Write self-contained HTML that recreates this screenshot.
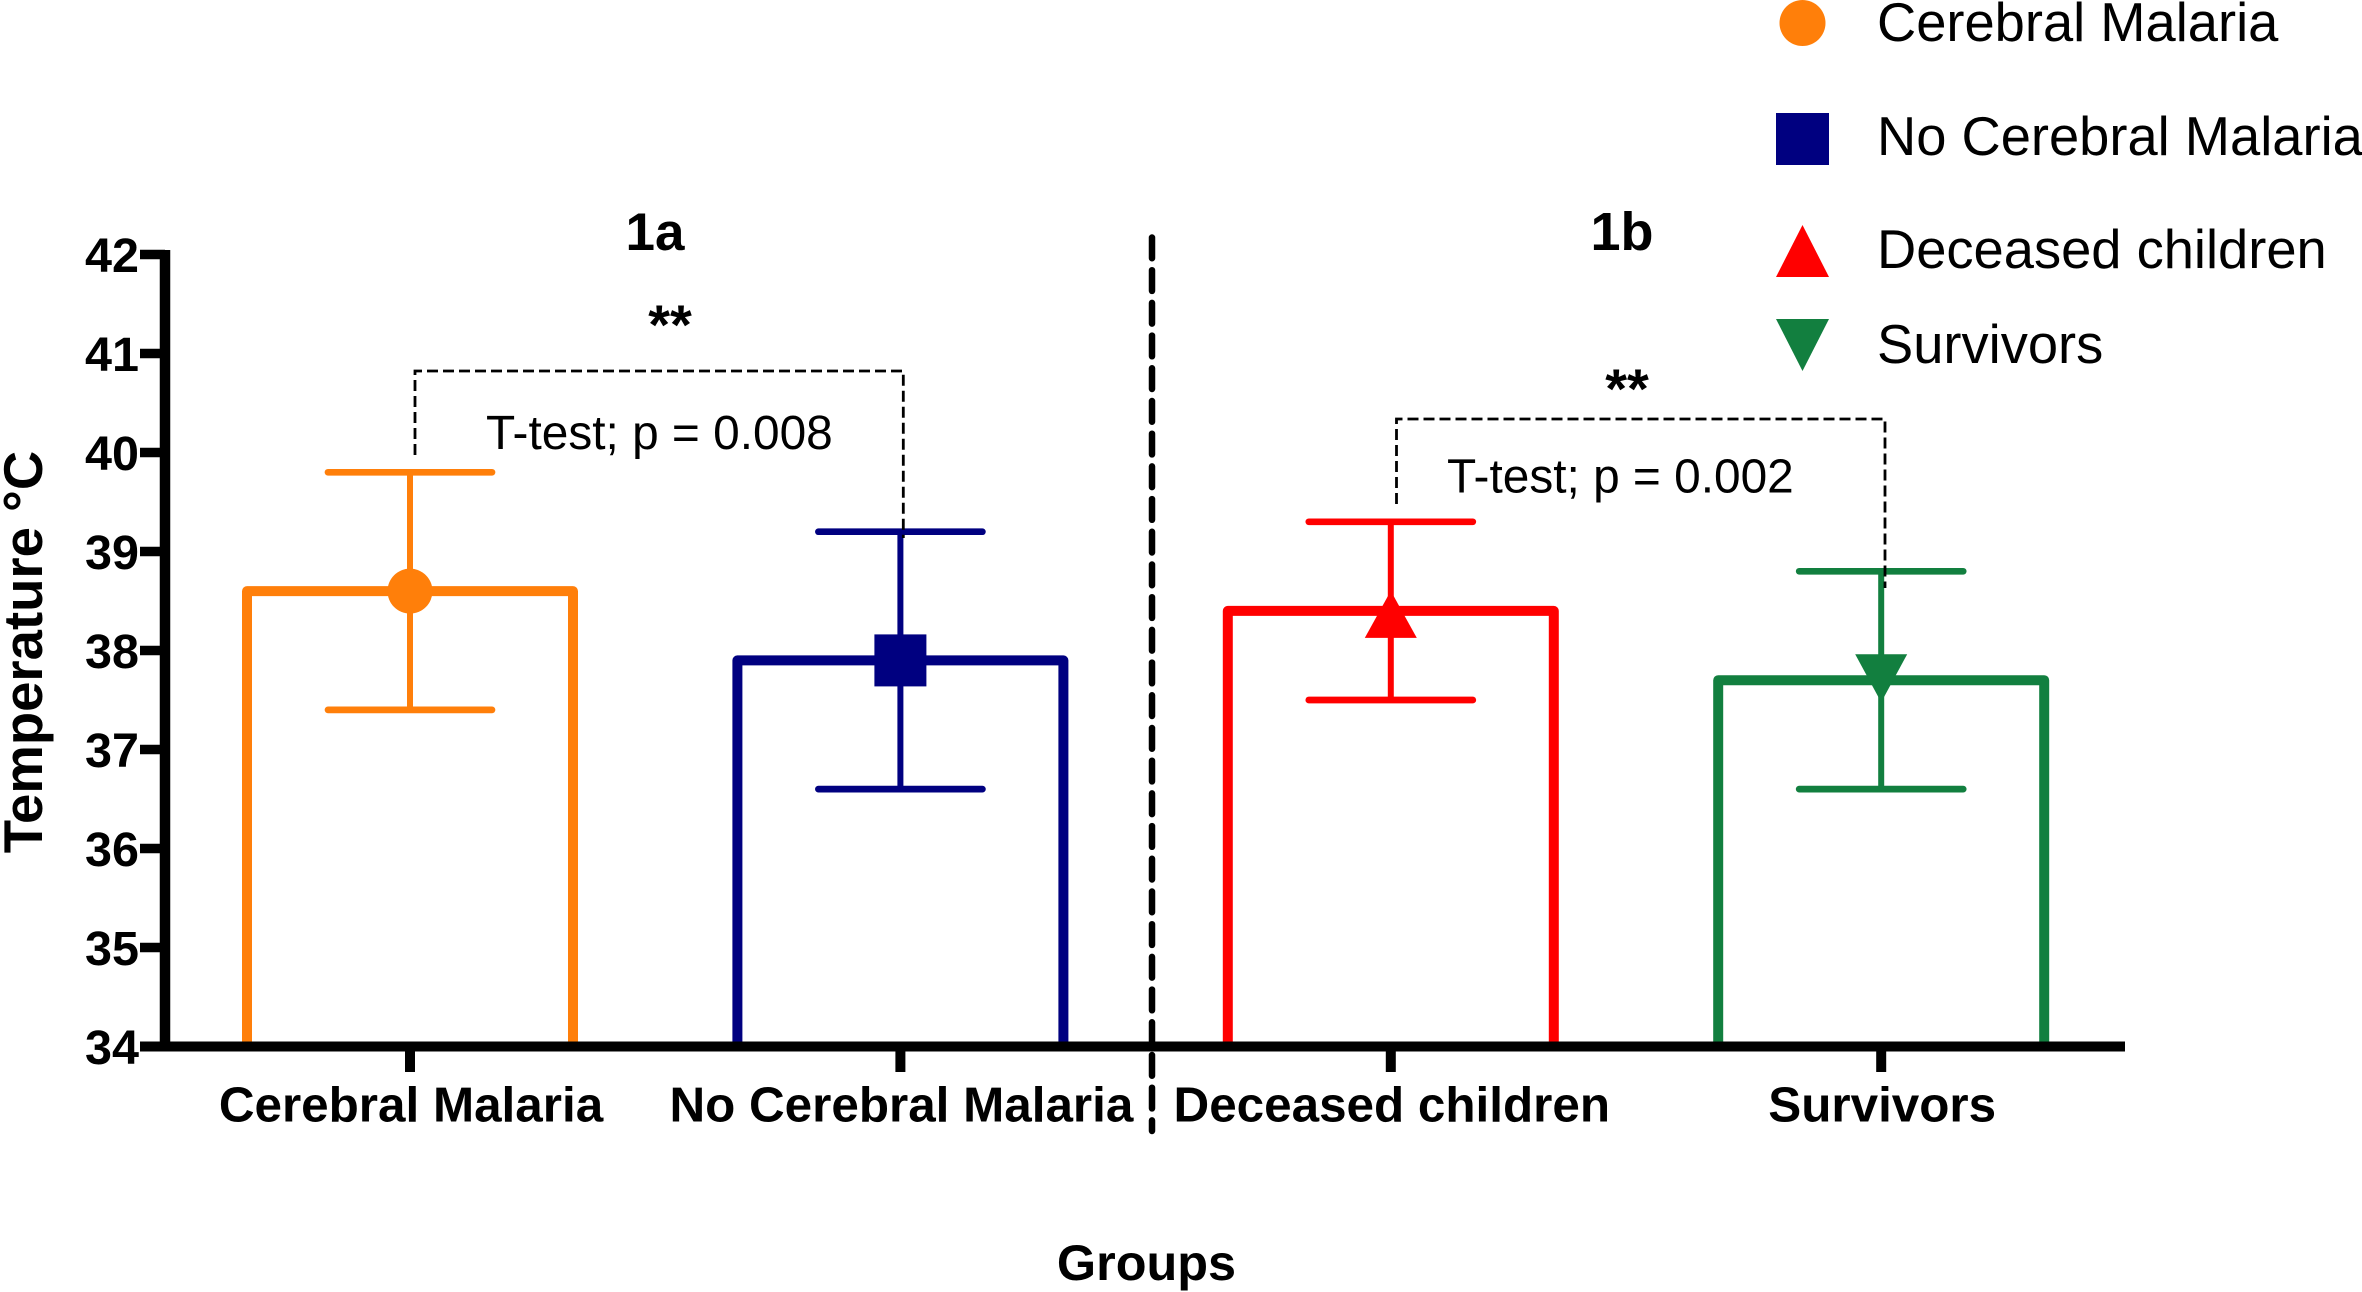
<!DOCTYPE html>
<html lang="en">
<head>
<meta charset="utf-8">
<title>Temperature by group</title>
<style>
  html, body { margin: 0; padding: 0; background: #fff; }
  #chart { display: block; width: 2362px; height: 1292px; font-family: "Liberation Sans", Arial, sans-serif; }
  .bold { font-weight: 700; fill: #000; }
  .reg { font-weight: 400; fill: #000; }
</style>
</head>
<body>
<svg id="chart" xmlns="http://www.w3.org/2000/svg" width="2362" height="1292" viewBox="0 0 2362 1292">
  <rect x="0" y="0" width="2362" height="1292" fill="#fff"/>
  <g id="bars"></g>
  <g id="errors"></g>
  <g id="markers"></g>
  <g id="axes"></g>

  <line x1="1152" y1="237.5" x2="1152" y2="1131" stroke="#000" stroke-width="6.5" stroke-linecap="round" stroke-dasharray="20.7 12"/>

  <text class="bold" font-size="54.5" text-anchor="middle" transform="translate(42 652) rotate(-90)">Temperature °C</text>
  <text class="bold" font-size="50.4" text-anchor="middle" x="1146.5" y="1280">Groups</text>

  <text class="bold" font-size="53" text-anchor="middle" x="655" y="250">1a</text>
  <text class="bold" font-size="54" text-anchor="middle" x="1622" y="250">1b</text>

  <path d="M415 455 V371 H903.3 V538" fill="none" stroke="#000" stroke-width="2.8" stroke-dasharray="11 5"/>
  <path d="M1396.5 504 V419 H1885 V588" fill="none" stroke="#000" stroke-width="2.8" stroke-dasharray="11 5"/>
  <text class="bold" font-size="56" text-anchor="middle" x="670" y="344">**</text>
  <text class="bold" font-size="56" text-anchor="middle" x="1627" y="408">**</text>
  <text class="reg" font-size="47.8" x="486" y="449">T-test; p = 0.008</text>
  <text class="reg" font-size="47.8" x="1447" y="492.5">T-test; p = 0.002</text>

  <g>
    <g>
      <ellipse cx="1802.5" cy="23" rx="23" ry="23" fill="#ff7f0a"/>
      <text class="reg" font-size="54.3" x="1877" y="41">Cerebral Malaria</text>
    </g>
    <g>
      <rect x="1776" y="113" width="53" height="52" fill="#000080"/>
      <text class="reg" font-size="54.3" x="1877" y="155">No Cerebral Malaria</text>
    </g>
    <g>
      <polygon points="1802.5,225 1829,277 1776,277" fill="#ff0000"/>
      <text class="reg" font-size="54.3" x="1877" y="268">Deceased children</text>
    </g>
    <g>
      <polygon points="1776,319 1829,319 1802.5,371" fill="#127f3f"/>
      <text class="reg" font-size="54.3" x="1877" y="363">Survivors</text>
    </g>
  </g>
</svg>

<script>
const categories = ["Cerebral Malaria", "No Cerebral Malaria", "Deceased children", "Survivors"];
const meanValues = [38.6, 37.9, 38.4, 37.7];
const upperValues = [39.8, 39.2, 39.3, 38.8];
const lowerValues = [37.4, 36.6, 37.5, 36.6];
const yTickValues = [34, 35, 36, 37, 38, 39, 40, 41, 42];
const seriesColors = ["#ff7f0a", "#000080", "#ff0000", "#127f3f"];
const seriesSlugs = ["cerebral-malaria", "no-cerebral-malaria", "deceased-children", "survivors"];

const NS = "http://www.w3.org/2000/svg";
function yScale(v) { return 1046.5 - (v - 34) * 99; }
function xScale(i) { return 410 + i * 490.4; }
function make(tag, parent, attrs) {
  const el = document.createElementNS(NS, tag);
  for (const k in attrs) el.setAttribute(k, attrs[k]);
  parent.appendChild(el);
  return el;
}

const barsG = document.getElementById("bars");
const errorsG = document.getElementById("errors");
const markersG = document.getElementById("markers");
const axesG = document.getElementById("axes");
const HALF_BAR = 163, HALF_CAP = 82;

categories.forEach(function (cat, i) {
  const x = xScale(i), color = seriesColors[i], slug = seriesSlugs[i];
  const yTop = yScale(meanValues[i]), yBase = yScale(34);

  const bar = make("path", barsG, {
    d: "M" + (x - HALF_BAR) + " " + yBase + " V" + yTop + " H" + (x + HALF_BAR) + " V" + yBase,
    fill: "none", stroke: color, "stroke-width": 10, "stroke-linejoin": "round"
  });
  
  

  const stem = make("line", errorsG, {
    x1: x, x2: x, y1: yScale(upperValues[i]), y2: yScale(lowerValues[i]),
    stroke: color, "stroke-width": 6
  });
  
  

  const capHigh = make("line", errorsG, {
    x1: x - HALF_CAP, x2: x + HALF_CAP, y1: yScale(upperValues[i]), y2: yScale(upperValues[i]),
    stroke: color, "stroke-width": 6.7, "stroke-linecap": "round"
  });
  
  

  const capLow = make("line", errorsG, {
    x1: x - HALF_CAP, x2: x + HALF_CAP, y1: yScale(lowerValues[i]), y2: yScale(lowerValues[i]),
    stroke: color, "stroke-width": 6.7, "stroke-linecap": "round"
  });
  
  

  let marker;
  if (i === 0) {
    marker = make("ellipse", markersG, { cx: x, cy: yTop, rx: 22.5, ry: 22.5, fill: color });
  } else if (i === 1) {
    marker = make("rect", markersG, { x: x - 26, y: yTop - 26, width: 52, height: 52, fill: color });
  } else if (i === 2) {
    marker = make("polygon", markersG, {
      points: x + "," + (yTop - 20) + " " + (x + 26) + "," + (yTop + 27) + " " + (x - 26) + "," + (yTop + 27),
      fill: color
    });
  } else {
    marker = make("polygon", markersG, {
      points: (x - 26) + "," + (yTop - 26) + " " + (x + 26) + "," + (yTop - 26) + " " + x + "," + (yTop + 22),
      fill: color
    });
  }
  
  
});

const yAxis = make("line", axesG, {
  x1: 165, x2: 165, y1: yScale(42) - 4.5, y2: yScale(34) + 5, stroke: "#000", "stroke-width": 10.5
});



const xAxis = make("line", axesG, {
  x1: 140, x2: 2125, y1: yScale(34), y2: yScale(34), stroke: "#000", "stroke-width": 10
});



yTickValues.forEach(function (v) {
  const y = yScale(v);
  const tick = make("line", axesG, { x1: 140, x2: 165, y1: y, y2: y, stroke: "#000", "stroke-width": 9.5 });
  
  

  const label = make("text", axesG, {
    x: 139, y: y + 17.5, "text-anchor": "end", "font-size": 48.5, "class": "bold"
  });
  label.textContent = String(v);
  
  
});

categories.forEach(function (cat, i) {
  const x = xScale(i);
  const tick = make("line", axesG, { x1: x, x2: x, y1: yScale(34), y2: 1072, stroke: "#000", "stroke-width": 10 });
  
  

  const label = make("text", axesG, {
    x: x + 1, y: 1121.5, "text-anchor": "middle", "font-size": 49.4, "class": "bold"
  });
  label.textContent = cat;
  
  
});
</script>
</body>
</html>
